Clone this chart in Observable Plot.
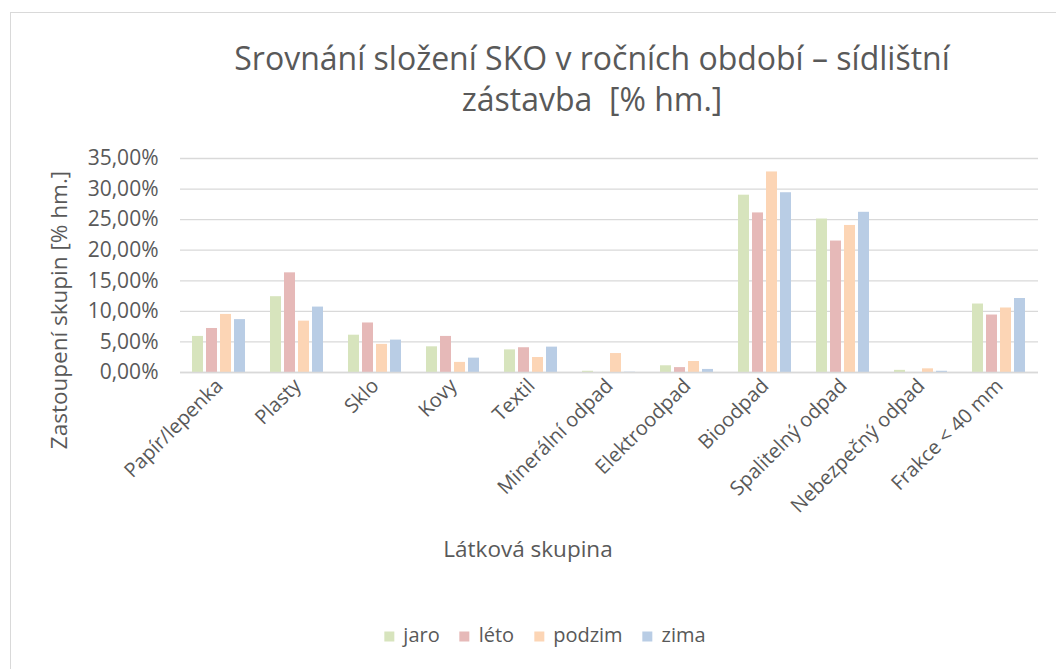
<!DOCTYPE html>
<html><head><meta charset="utf-8">
<script src="https://cdn.jsdelivr.net/npm/d3@7"></script>
<script src="https://cdn.jsdelivr.net/npm/@observablehq/plot@0.6"></script>
<style>
body{margin:0;background:#fff;overflow:hidden;font-family:"Open Sans",sans-serif;color:#595959}
#wrap{position:relative;width:1056px;height:669px;overflow:hidden}
#frame{position:absolute;left:10px;top:12px;width:1100px;height:700px;border:1px solid #d9d9d9;box-sizing:border-box}
#title{position:absolute;left:192px;width:800px;top:37px;text-align:center;font-family:"Open Sans",sans-serif;font-size:32px;line-height:41px;color:#595959;white-space:pre}
#chart{position:absolute;left:10px;top:140px}
#ylab{position:absolute;left:58px;top:310px;transform:translate(-50%,-50%) rotate(-90deg);font-size:22.5px;white-space:nowrap}
#xlab{position:absolute;left:528px;top:548px;transform:translate(-50%,-50%);font-size:22.5px;white-space:nowrap}
#legend{position:absolute;left:545px;top:634px;transform:translate(-50%,-50%);display:flex;gap:20px;font-size:20px;white-space:nowrap;align-items:center}
#legend span.sw{display:inline-block;width:10px;height:10px;margin-right:9px}
</style></head>
<body><div id="wrap">
<div id="frame"></div>
<div id="title">Srovnání složení SKO v ročních období – sídlištní
zástavba  [% hm.]</div>
<div id="chart"></div>
<div id="ylab">Zastoupení skupin [% hm.]</div>
<div id="xlab">Látková skupina</div>
<div id="legend"></div>
</div>
<script>
const categories = ["Papír/lepenka","Plasty","Sklo","Kovy","Textil","Minerální odpad","Elektroodpad","Bioodpad","Spalitelný odpad","Nebezpečný odpad","Frakce < 40 mm"];
const seasons = ["jaro","léto","podzim","zima"];
const jaro   = [5.9, 12.4, 6.1, 4.2, 3.7, 0.2, 1.1, 29.0, 25.1, 0.35, 11.2];
const leto   = [7.2, 16.3, 8.1, 5.9, 4.05, 0.0, 0.8, 26.1, 21.5, 0.0, 9.4];
const podzim = [9.5, 8.4, 4.6, 1.65, 2.45, 3.1, 1.8, 32.8, 24.05, 0.6, 10.55];
const zima   = [8.65, 10.7, 5.3, 2.35, 4.15, 0.05, 0.5, 29.4, 26.2, 0.2, 12.1];
const colors = ["#d7e4bd","#e6b9b8","#fcd5b5","#b9cde5"];
const yTicks = [0,5,10,15,20,25,30,35];

const series = [jaro, leto, podzim, zima];
const data = categories.flatMap((c,i) => seasons.map((s,j) => ({category:c, season:s, value:series[j][i]})));
const fmt = d => d.toFixed(2).replace(".", ",") + "%";

const chart = Plot.plot({
  width: 1040, height: 422,
  marginTop: 18, marginBottom: 190, marginLeft: 167, marginRight: 10,
  style: {fontFamily: "Open Sans, sans-serif", fontSize: "18px", color: "#595959", background: "transparent"},
  fx: {domain: categories, padding: 0, label: null},
  x: {domain: seasons, paddingInner: 0.2, paddingOuter: 0.8, axis: null},
  y: {domain: [0, 35], label: null},
  color: {domain: seasons, range: colors},
  marks: [
    Plot.gridY({ticks: yTicks, stroke: "#d9d9d9", strokeOpacity: 1, strokeWidth: 1.3}),
    Plot.axisY({ticks: yTicks, tickSize: 0, tickPadding: 22, tickFormat: fmt, fontSize: 21, label: null}),
    Plot.axisFx({anchor: "bottom", tickRotate: -45, tickSize: 0, tickPadding: 10, label: null, fontSize: 20}),
    Plot.barY(data, {fx: "category", x: "season", y: "value", fill: "season"}),
    Plot.ruleY([0], {stroke: "#d9d9d9", strokeWidth: 1.3})
  ]
});
document.getElementById("chart").appendChild(chart);

const lg = document.getElementById("legend");
seasons.forEach((s,i) => {
  const it = document.createElement("div");
  it.innerHTML = `<span class="sw" style="background:${colors[i]}"></span>${s}`;
  lg.appendChild(it);
});
</script>
</body></html>
